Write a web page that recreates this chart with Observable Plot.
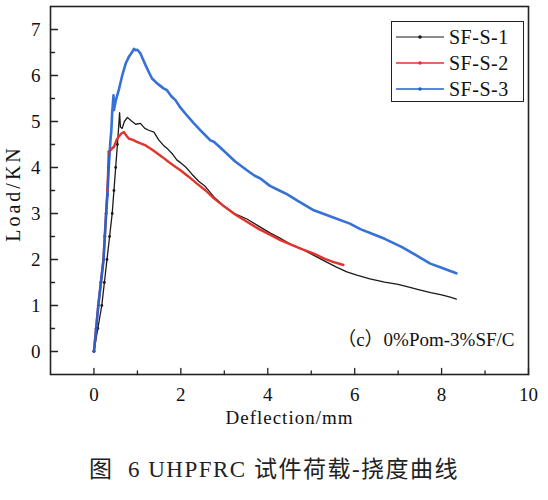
<!DOCTYPE html>
<html>
<head>
<meta charset="utf-8">
<script src="https://cdn.jsdelivr.net/npm/d3@7"></script>
<script src="https://cdn.jsdelivr.net/npm/@observablehq/plot@0.6"></script>
<style>
  html, body { margin: 0; padding: 0; background: #ffffff; }
  #wrap { position: relative; width: 548px; }
  #legend { position: absolute; left: 391px; top: 21px; width: 131px; height: 79px; border: 1.5px solid #222; background: #fff; font-family: "Liberation Serif", "DejaVu Serif", serif; font-size: 20px; color: #111; }
  .item { position: absolute; left: 0; height: 26px; width: 131px; }
  .item svg { position: absolute; left: 3px; top: 0; }
  .item span { position: absolute; left: 57px; top: 1px; line-height: 24px; letter-spacing: 0.5px; }
  #caption { width: 548px; height: 60px; line-height: 60px; text-align: center; font-family: "Liberation Serif", "Noto Sans CJK SC", serif; font-size: 23px; letter-spacing: 1.5px; color: #222; }
</style>
</head>
<body>
<div id="wrap">
  <div id="chart"></div>
  <div id="legend"></div>
</div>
<div id="caption">图&nbsp;&nbsp;6 UHPFRC 试件荷载-挠度曲线</div>
<script>
const seriesNames = ["SF-S-1", "SF-S-2", "SF-S-3"];
const seriesColors = ["#1a1a1a", "#e2342c", "#1f62d2"];
const seriesWidths = [1.3, 2.4, 2.6];

const s1x = [0, 0.09, 0.18, 0.24, 0.30, 0.36, 0.42, 0.46, 0.50, 0.54, 0.57, 0.59, 0.61, 0.65, 0.70, 0.77, 0.85, 0.96, 1.07, 1.17, 1.26, 1.38, 1.49, 1.60, 1.70, 1.80, 1.91, 2.00, 2.11, 2.25, 2.41, 2.55, 2.76, 3.00, 3.25, 3.52, 3.80, 4.05, 4.29, 4.55, 4.80, 5.06, 5.30, 5.57, 5.82, 6.05, 6.35, 6.69, 7.00, 7.25, 7.49, 7.75, 8.00, 8.20, 8.34];
const s1y = [0, 0.50, 1.00, 1.50, 2.00, 2.50, 3.00, 3.50, 4.00, 4.50, 4.90, 5.19, 4.88, 4.85, 5.00, 5.09, 5.02, 4.94, 4.96, 4.85, 4.81, 4.77, 4.60, 4.48, 4.40, 4.30, 4.16, 4.10, 4.01, 3.86, 3.70, 3.60, 3.36, 3.16, 2.99, 2.88, 2.72, 2.58, 2.46, 2.32, 2.22, 2.09, 1.97, 1.84, 1.73, 1.66, 1.58, 1.51, 1.46, 1.40, 1.34, 1.28, 1.23, 1.18, 1.14];

const s2x = [0, 0.05, 0.10, 0.16, 0.22, 0.25, 0.28, 0.31, 0.33, 0.34, 0.40, 0.46, 0.52, 0.57, 0.63, 0.69, 0.74, 0.80, 0.90, 1.00, 1.19, 1.35, 1.57, 1.72, 1.88, 1.99, 2.18, 2.37, 2.57, 2.76, 3.00, 3.25, 3.52, 3.80, 4.05, 4.29, 4.55, 4.80, 5.06, 5.30, 5.50, 5.74];
const s2y = [0, 0.50, 1.00, 1.50, 2.00, 2.50, 3.00, 3.50, 4.00, 4.34, 4.40, 4.45, 4.60, 4.67, 4.74, 4.77, 4.70, 4.63, 4.60, 4.55, 4.48, 4.38, 4.23, 4.12, 4.01, 3.94, 3.80, 3.65, 3.50, 3.33, 3.15, 2.98, 2.82, 2.66, 2.54, 2.42, 2.32, 2.22, 2.13, 2.02, 1.95, 1.88];

const s3x = [0, 0.05, 0.10, 0.16, 0.22, 0.25, 0.28, 0.31, 0.34, 0.38, 0.40, 0.42, 0.45, 0.46, 0.50, 0.57, 0.65, 0.73, 0.80, 0.88, 0.92, 0.96, 1.00, 1.07, 1.13, 1.19, 1.27, 1.34, 1.40, 1.45, 1.52, 1.60, 1.68, 1.78, 1.88, 1.99, 2.15, 2.30, 2.50, 2.68, 2.76, 2.90, 3.06, 3.25, 3.52, 3.70, 3.83, 4.05, 4.29, 4.44, 4.70, 5.06, 5.40, 5.89, 6.13, 6.40, 6.69, 7.09, 7.40, 7.74, 8.00, 8.20, 8.34];
const s3y = [0, 0.50, 1.00, 1.50, 2.00, 2.50, 3.00, 3.40, 4.00, 4.60, 4.80, 5.20, 5.57, 5.25, 5.45, 5.68, 6.00, 6.26, 6.40, 6.51, 6.58, 6.55, 6.56, 6.48, 6.35, 6.22, 6.06, 5.93, 5.88, 5.83, 5.78, 5.72, 5.68, 5.55, 5.46, 5.30, 5.12, 4.96, 4.76, 4.59, 4.56, 4.44, 4.30, 4.13, 3.94, 3.82, 3.76, 3.60, 3.49, 3.42, 3.27, 3.07, 2.95, 2.78, 2.66, 2.56, 2.45, 2.27, 2.10, 1.91, 1.82, 1.75, 1.70];

const xMajor = [0, 2, 4, 6, 8, 10];
const xMinor = [1, 3, 5, 7, 9];
const yMajor = [0, 1, 2, 3, 4, 5, 6, 7];
const yMinor = [0.5, 1.5, 2.5, 3.5, 4.5, 5.5, 6.5];
const xLabel = "Deflection/mm";
const yLabel = "Load/KN";
const note = "（c）0%Pom-3%SF/C";

const xs = [s1x, s2x, s3x];
const ys = [s1y, s2y, s3y];
const rows = [];
seriesNames.forEach((name, k) => {
  xs[k].forEach((x, i) => rows.push({series: name, x, y: ys[k][i]}));
});

const tickShape = {draw(ctx, l) { ctx.moveTo(0, 0); ctx.lineTo(0, -l); }};
const font = "Liberation Serif, DejaVu Serif, serif";

const lineMarks = seriesNames.map((name, k) =>
  Plot.line(rows.filter(d => d.series === name), {x: "x", y: "y", stroke: seriesColors[k], strokeWidth: seriesWidths[k], strokeOpacity: k === 2 ? 0.9 : 1, curve: "linear"})
);
const dotMarks = seriesNames.map((name, k) =>
  Plot.dot(rows.filter(d => d.series === name && d.y < 4.6 && d.x < 0.7), {x: "x", y: "y", r: 1.4, fill: seriesColors[k], stroke: "none"})
);

const chart = Plot.plot({
  width: 548,
  height: 440,
  marginLeft: 50,
  marginRight: 20,
  marginTop: 6,
  marginBottom: 66,
  style: {fontFamily: font, fontSize: "19px", color: "#111", background: "transparent"},
  x: {domain: [-1, 10]},
  y: {domain: [-0.5, 7.5]},
  marks: [
    ...lineMarks,
    ...dotMarks,
    Plot.frame({stroke: "#222", strokeWidth: 1.6}),
    Plot.axisX(xMajor, {tickSize: 0, tickPadding: 13, label: null, fontSize: 19, fontFamily: font}),
    Plot.axisY(yMajor, {tickSize: 0, tickPadding: 10, label: null, fontSize: 19, fontFamily: font}),
    Plot.vector(xMajor, {x: d => d, frameAnchor: "bottom", anchor: "start", length: 6, shape: tickShape, stroke: "#222", strokeWidth: 1.3}),
    Plot.vector(xMinor, {x: d => d, frameAnchor: "bottom", anchor: "start", length: 3.5, shape: tickShape, stroke: "#222", strokeWidth: 1.3}),
    Plot.vector(yMajor, {y: d => d, frameAnchor: "left", anchor: "start", rotate: 90, length: 7, shape: tickShape, stroke: "#222", strokeWidth: 1.3}),
    Plot.vector(yMinor, {y: d => d, frameAnchor: "left", anchor: "start", rotate: 90, length: 4, shape: tickShape, stroke: "#222", strokeWidth: 1.3}),
    Plot.text([xLabel], {frameAnchor: "bottom", textAnchor: "middle", dy: 49, fontSize: 19, fill: "#111", fontFamily: font}),
    Plot.text([yLabel], {frameAnchor: "left", textAnchor: "middle", dx: -37, dy: 3, rotate: -90, fontSize: 20, fill: "#111", fontFamily: font}),
    Plot.text([note], {frameAnchor: "bottom-right", dx: -14, dy: -29, textAnchor: "end", fontSize: 19, fill: "#111", fontFamily: "Liberation Serif, Noto Sans CJK SC, serif"})
  ]
});
document.getElementById("chart").appendChild(chart);

// widen the axis titles slightly, as in the reference
d3.select(chart).selectAll("text").each(function() {
  const t = this.textContent;
  if (t === yLabel) this.setAttribute("letter-spacing", "3px");
  if (t === xLabel) this.setAttribute("letter-spacing", "1px");
});

const legend = document.getElementById("legend");
seriesNames.forEach((name, k) => {
  const item = document.createElement("div");
  item.className = "item";
  item.style.top = (2 + k * 26) + "px";
  item.innerHTML = `<svg width="50" height="26"><line x1="1" y1="13" x2="49" y2="13" stroke="${seriesColors[k]}" stroke-width="${k === 0 ? 1.2 : 1.4}"/><circle cx="25" cy="13" r="1.8" fill="${seriesColors[k]}"/></svg><span>${name}</span>`;
  legend.appendChild(item);
});
</script>
</body>
</html>
